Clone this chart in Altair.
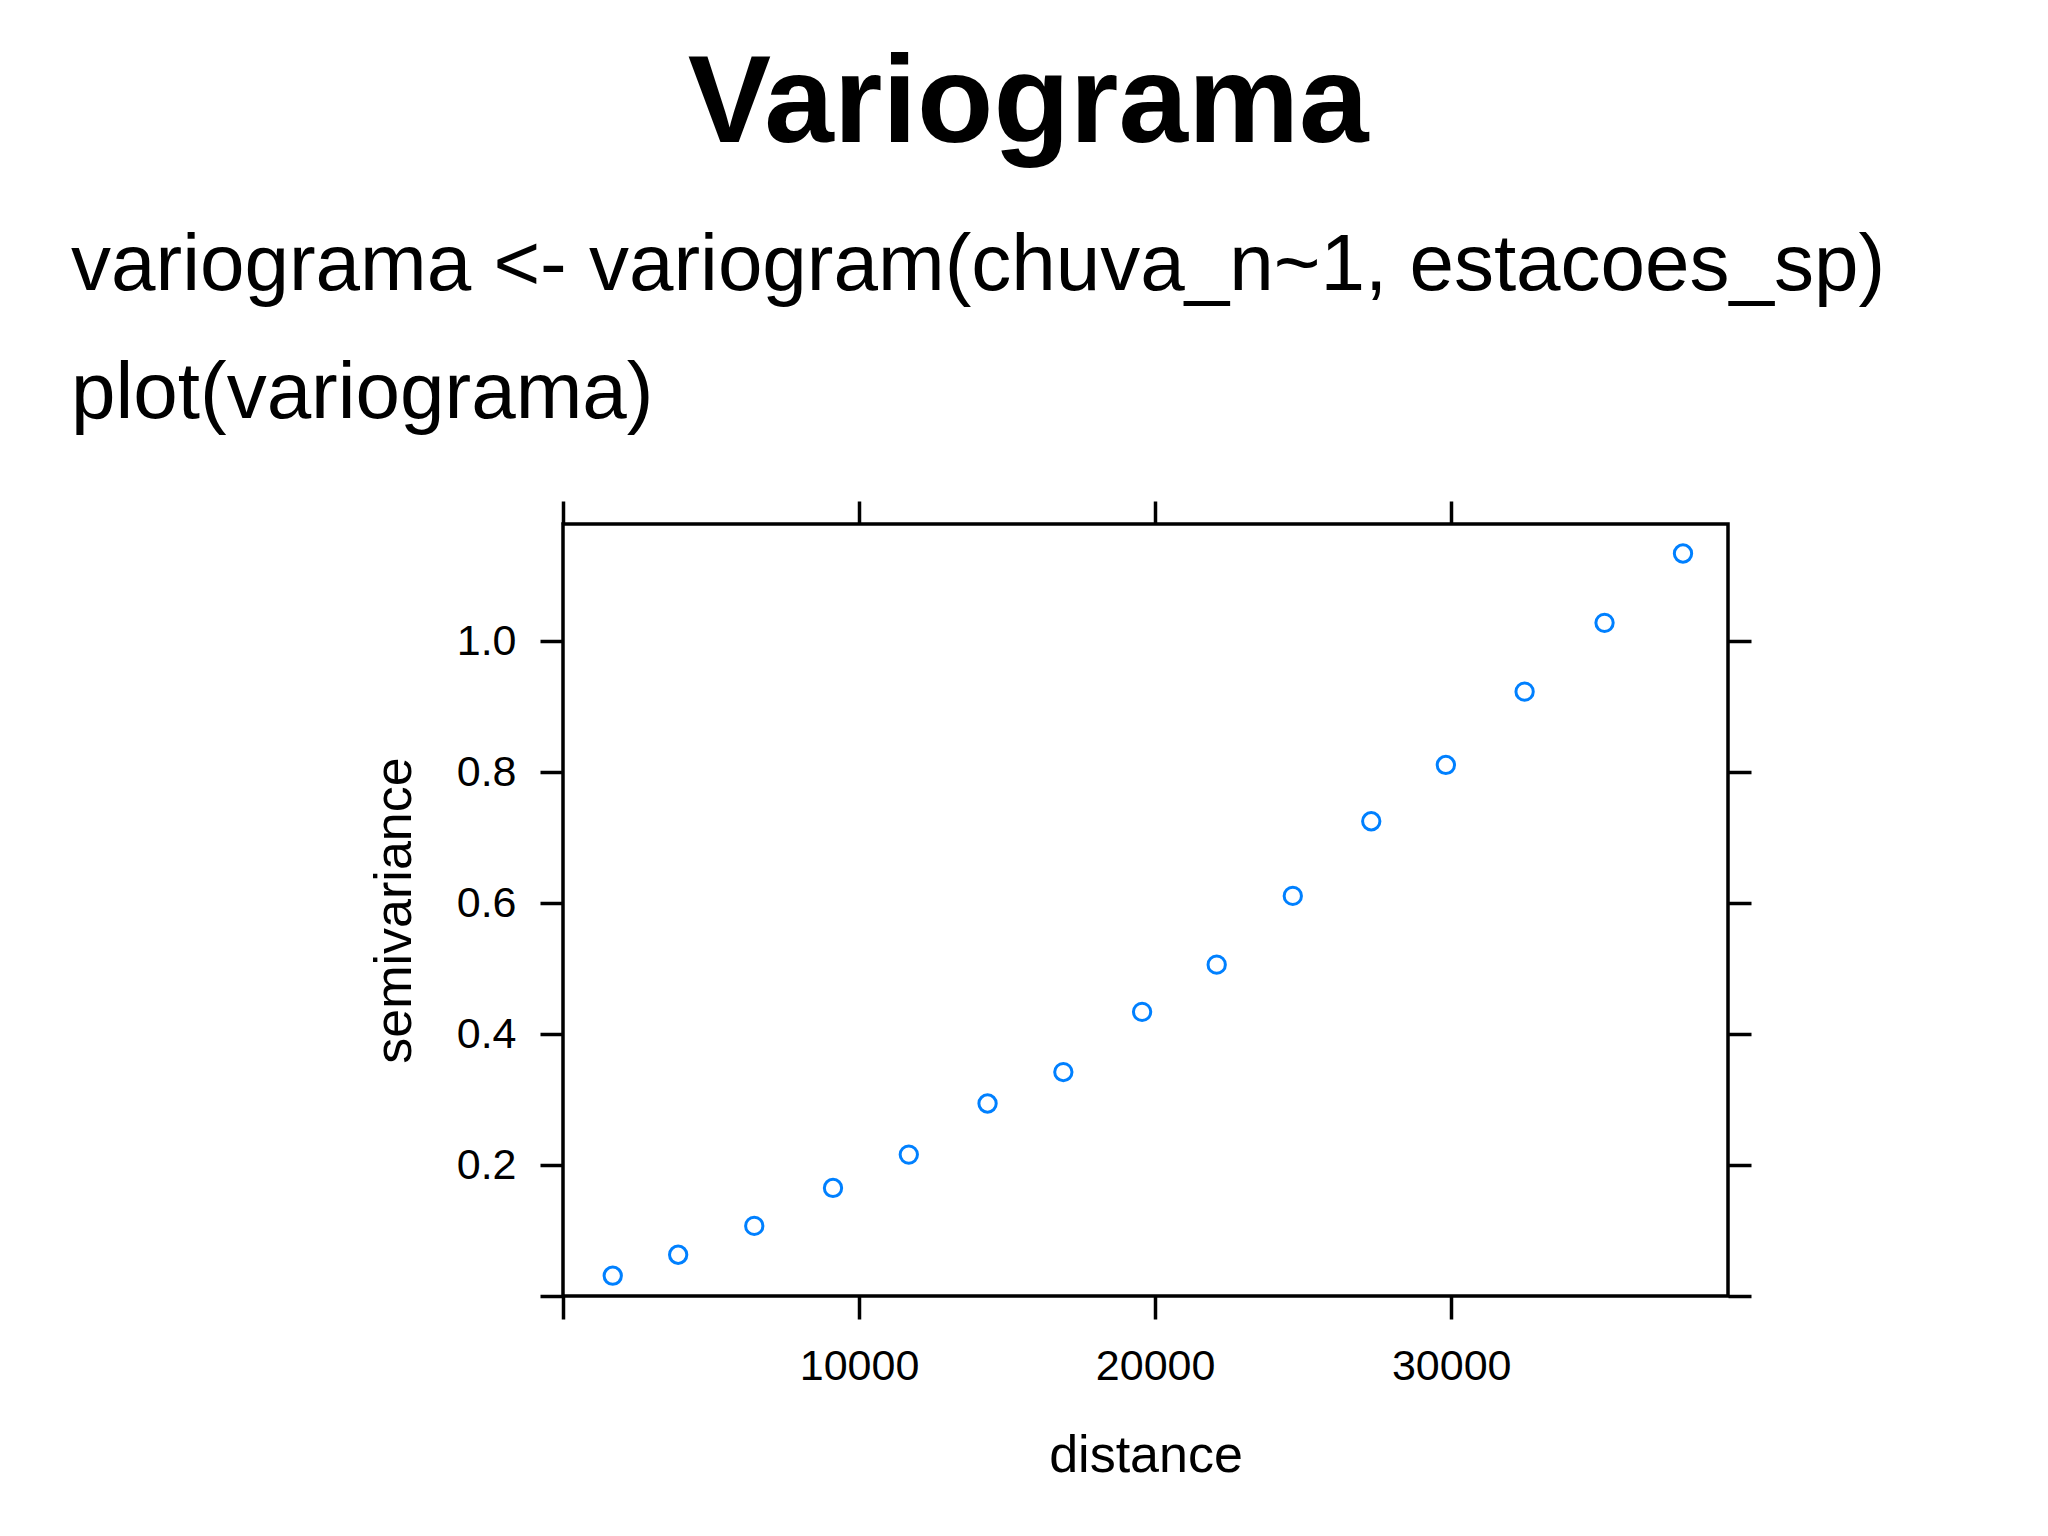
import altair as alt
import pandas as pd

# ---- data ----
distance = [1680, 3890, 6460, 9120, 11680, 14340, 16900, 19560, 22080,
            24650, 27300, 29820, 32480, 35180, 37830]
semivariance = [0.031, 0.063, 0.107, 0.165, 0.216, 0.294, 0.342, 0.434,
                0.506, 0.611, 0.725, 0.811, 0.923, 1.028, 1.134]
x_ticks = [0, 10000, 20000, 30000]
y_ticks = [0, 0.2, 0.4, 0.6, 0.8, 1.0]
x_domain = [0, 39350]
y_domain = [0, 1.179]
slide_title = "Variograma"
code_lines = ["variograma <- variogram(chuva_n~1, estacoes_sp)", "plot(variograma)"]
x_title = "distance"
y_title = "semivariance"

df = pd.DataFrame({"distance": distance, "semivariance": semivariance})

FONT = "Liberation Sans"
tick_common = dict(tickSize=23, tickWidth=3.5, tickColor="black", domain=False, grid=False)

xscale = alt.Scale(domain=x_domain, nice=False, zero=False)
yscale = alt.Scale(domain=y_domain, nice=False, zero=False)
hide_zero = "datum.value == 0 ? '' : datum.label"

base = alt.Chart(df)

points = base.mark_point(
    shape="circle", filled=False, color="#0080ff", size=300, strokeWidth=3, opacity=1
).encode(
    x=alt.X("distance:Q", scale=xscale,
            axis=alt.Axis(orient="bottom", values=x_ticks, labelExpr=hide_zero, format="d",
                          labelFont=FONT, labelFontSize=43, labelColor="black", labelPadding=26,
                          title=x_title, titleFont=FONT, titleFontSize=52, titleFontWeight="normal",
                          titleColor="black", titleY=175, titleBaseline="alphabetic",
                          **tick_common)),
    y=alt.Y("semivariance:Q", scale=yscale,
            axis=alt.Axis(orient="left", values=y_ticks, labelExpr=hide_zero, format=".1f",
                          labelFont=FONT, labelFontSize=43, labelColor="black", labelPadding=24,
                          title=y_title, titleFont=FONT, titleFontSize=52, titleFontWeight="normal",
                          titleColor="black", titleX=-153, titleBaseline="alphabetic",
                          **tick_common)),
)

frame = base.mark_point(opacity=0).encode(
    x=alt.X("distance:Q", scale=xscale,
            axis=alt.Axis(orient="top", values=x_ticks, labels=False, title=None, **tick_common)),
    y=alt.Y("semivariance:Q", scale=yscale,
            axis=alt.Axis(orient="right", values=y_ticks, labels=False, title=None, **tick_common)),
)

panel = alt.layer(points, frame).resolve_axis(x="independent", y="independent").properties(
    width=1165, height=772,
    view=alt.ViewBackground(stroke="black", strokeWidth=3.5, fill="white"),
    title=alt.TitleParams(code_lines, anchor="start", frame="bounds", fontSize=80, font=FONT,
                          fontWeight="normal", color="black", lineHeight=128, offset=64, dx=-297),
)

chart = alt.vconcat(panel).properties(
    title=alt.TitleParams(slide_title, anchor="middle", fontSize=125, font=FONT,
                          fontWeight="bold", color="black", dx=50, offset=57),
    padding={"left": 61, "top": 33, "right": 0, "bottom": 0},
).configure_view(stroke="black", strokeWidth=3.5).configure(background="white")

chart.save("out.html", embed_options={"renderer": "svg", "actions": False})
